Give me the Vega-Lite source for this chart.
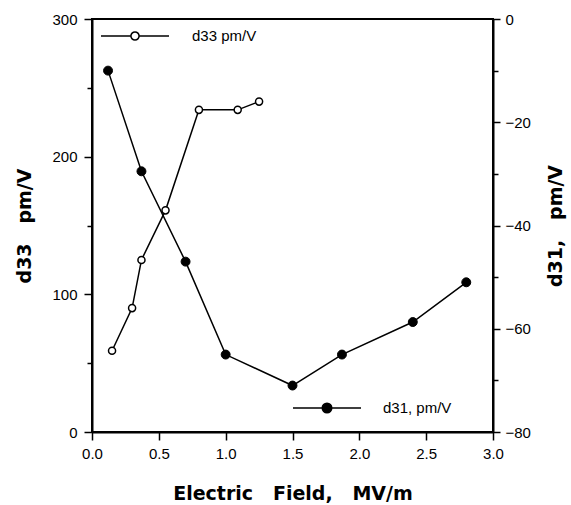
{
  "$schema": "https://vega.github.io/schema/vega-lite/v6.json",
  "width": 401,
  "height": 413,
  "autosize": {"type": "none"},
  "padding": {"left": 92, "top": 19, "right": 78, "bottom": 73},
  "background": "white",
  "config": {
    "view": {"stroke": "black", "strokeWidth": 2},
    "axis": {
      "domainColor": "black",
      "domainWidth": 2,
      "tickColor": "black",
      "tickWidth": 1.5,
      "grid": false,
      "labelFlush": false,
      "labelOverlap": false,
      "labelFont": "Liberation Sans",
      "labelFontSize": 15,
      "labelColor": "black",
      "titleFont": "DejaVu Sans",
      "titleFontWeight": "bold",
      "titleFontSize": 19,
      "titleColor": "black"
    },
    "legend": {
      "labelFont": "Liberation Sans",
      "labelFontSize": 15,
      "labelColor": "black",
      "padding": 0
    }
  },
  "datasets": {
    "d33": [
      {"E": 0.15, "d33": 59},
      {"E": 0.30, "d33": 90},
      {"E": 0.37, "d33": 125},
      {"E": 0.55, "d33": 161},
      {"E": 0.80, "d33": 234},
      {"E": 1.09, "d33": 234},
      {"E": 1.25, "d33": 240}
    ],
    "d31": [
      {"E": 0.12, "d31": -10},
      {"E": 0.37, "d31": -29.5},
      {"E": 0.70, "d31": -47},
      {"E": 1.00, "d31": -65},
      {"E": 1.50, "d31": -71},
      {"E": 1.87, "d31": -65},
      {"E": 2.40, "d31": -58.7},
      {"E": 2.80, "d31": -51}
    ]
  },
  "layer": [
    {
      "data": {"name": "d33"},
      "transform": [{"calculate": "'d33 pm/V'", "as": "series"}],
      "encoding": {
        "x": {
          "field": "E",
          "type": "quantitative",
          "scale": {"domain": [0, 3], "nice": false, "zero": false},
          "axis": {
            "title": "Electric\u00a0\u00a0\u00a0Field,\u00a0\u00a0\u00a0MV/m",
            "values": [0, 0.25, 0.5, 0.75, 1, 1.25, 1.5, 1.75, 2, 2.25, 2.5, 2.75, 3],
            "format": ".1f",
            "labelExpr": "(round(datum.value*100) % 50 == 0) ? datum.label : ''",
            "tickSize": {"condition": {"test": "round(datum.value*100) % 50 == 0", "value": 8}, "value": 5},
            "labelPadding": 6,
            "titlePadding": 23
          }
        },
        "y": {
          "field": "d33",
          "type": "quantitative",
          "scale": {"domain": [0, 300], "nice": false},
          "axis": {
            "title": "d33\u00a0\u00a0\u00a0pm/V",
            "values": [0, 50, 100, 150, 200, 250, 300],
            "labelExpr": "(datum.value % 100 == 0) ? datum.label : ''",
            "tickSize": {"condition": {"test": "datum.value % 100 == 0", "value": 8}, "value": 5},
            "labelPadding": 7,
            "titlePadding": 17
          }
        }
      },
      "layer": [
        {"mark": {"type": "line", "color": "black", "strokeWidth": 1.5}},
        {
          "mark": {"type": "point", "shape": "circle", "filled": true, "stroke": "black", "strokeWidth": 1.5, "size": 50, "opacity": 1},
          "encoding": {
            "fill": {
              "field": "series",
              "type": "nominal",
              "scale": {"domain": ["d33 pm/V"], "range": ["white"]},
              "legend": {
                "title": null,
                "orient": "none",
                "legendX": 8,
                "legendY": -18,
                "symbolType": "M-1,0H-0.12M0.12,0H1M-0.12,0A0.12,0.12,0,1,1,0.12,0A0.12,0.12,0,1,1,-0.12,0Z",
                "symbolSize": 4624,
                "labelOffset": 22,
                "encode": {"symbols": {"update": {"stroke": {"value": "black"}, "strokeWidth": {"value": 1.5}, "opacity": {"value": 1}}}}
              }
            }
          }
        }
      ]
    },
    {
      "data": {"name": "d31"},
      "transform": [{"calculate": "'d31, pm/V'", "as": "series"}],
      "encoding": {
        "x": {"field": "E", "type": "quantitative"},
        "y": {
          "field": "d31",
          "type": "quantitative",
          "scale": {"domain": [-80, 0], "nice": false, "zero": false},
          "axis": {
            "orient": "right",
            "title": "d31,\u00a0\u00a0\u00a0pm/V",
            "titleAngle": 270,
            "values": [-80, -70, -60, -50, -40, -30, -20, -10, 0],
            "labelExpr": "(datum.value % 20 == 0) ? datum.label : ''",
            "tickSize": {"condition": {"test": "datum.value % 20 == 0", "value": 7}, "value": 5},
            "labelPadding": 5,
            "titlePadding": 35
          }
        }
      },
      "layer": [
        {"mark": {"type": "line", "color": "black", "strokeWidth": 1.5}},
        {
          "mark": {"type": "point", "shape": "circle", "filled": true, "stroke": "black", "strokeWidth": 1, "size": 80, "opacity": 1},
          "encoding": {
            "fill": {
              "field": "series",
              "type": "nominal",
              "scale": {"domain": ["d31, pm/V"], "range": ["black"]},
              "legend": {
                "title": null,
                "orient": "none",
                "legendX": 200,
                "legendY": 354,
                "symbolType": "M-1,0H-0.14M0.14,0H1M-0.14,0A0.14,0.14,0,1,1,0.14,0A0.14,0.14,0,1,1,-0.14,0Z",
                "symbolSize": 4624,
                "labelOffset": 21,
                "encode": {"symbols": {"update": {"stroke": {"value": "black"}, "strokeWidth": {"value": 1.5}, "opacity": {"value": 1}}}}
              }
            }
          }
        }
      ]
    }
  ],
  "resolve": {
    "scale": {"y": "independent", "fill": "independent"},
    "axis": {"y": "independent"},
    "legend": {"fill": "independent"}
  }
}
